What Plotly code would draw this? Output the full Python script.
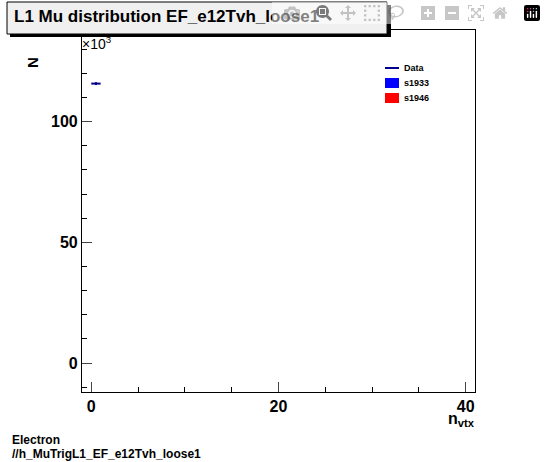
import plotly.graph_objects as go

nvtx = [0.5]
counts = [115800]
err = [600]
bin_half = [0.5]
legend_names = ["Data", "s1933", "s1946"]
legend_colors = ["#00008b", "#0000ff", "#ff0000"]

fig = go.Figure()
fig.add_trace(go.Scatter(
    x=nvtx, y=counts, mode="markers",
    marker=dict(size=1, color="#00008b"),
    error_x=dict(type="data", array=bin_half, color="#00008b", thickness=2, width=0),
    error_y=dict(type="data", array=err, color="#00008b", thickness=2, width=0),
    showlegend=False))

fig.update_layout(
    width=546, height=462, margin=dict(l=0, r=0, t=0, b=0),
    paper_bgcolor="white", plot_bgcolor="white", showlegend=False,
    font=dict(family="Liberation Sans", color="black"),
    xaxis=dict(domain=[0.150, 0.870], range=[-1, 41], showline=True, mirror=True,
               linecolor="black", linewidth=1, ticks="inside", ticklen=10,
               tickvals=[0, 20, 40], ticktext=["<b>0</b>", "<b>20</b>", "<b>40</b>"],
               tickfont=dict(size=16, family="Liberation Sans"),
               showgrid=False, zeroline=False,
               minor=dict(ticks="inside", ticklen=5, dtick=5, tick0=0, tickcolor="black")),
    yaxis=dict(domain=[0.1515, 0.935], range=[-12000, 138000], showline=True, mirror=True,
               linecolor="black", linewidth=1, ticks="inside", ticklen=10,
               tickvals=[0, 50000, 100000], ticktext=["<b>0</b>", "<b>50</b>", "<b>100</b>"],
               tickfont=dict(size=16, family="Liberation Sans"),
               showgrid=False, zeroline=False,
               minor=dict(ticks="inside", ticklen=5, dtick=10000, tick0=0, tickcolor="black")),
)

ann = [
    dict(x=12, y=5, text="<b>L1 Mu distribution EF_e12Tvh_loose1</b>", font_size=17),
    dict(x=80, y=32, text="×10<sup>3</sup>", font_size=14),
    dict(x=22, y=55, text="<b>N</b>", font_size=15, textangle=-90),
    dict(x=446, y=408, text="<b>n<sub>vtx</sub></b>", font_size=16),
    dict(x=10, y=431, text="<b>Electron</b>", font_size=12),
    dict(x=10, y=445, text="<b>//h_MuTrigL1_EF_e12Tvh_loose1</b>", font_size=12),
]
for a in ann:
    fig.add_annotation(xref="paper", yref="paper", x=a["x"] / 546, y=1 - a["y"] / 462,
                       xanchor="left", yanchor="top", showarrow=False,
                       text=a["text"], textangle=a.get("textangle", 0),
                       font=dict(size=a["font_size"], family="Liberation Sans", color="black"))

# title box with shadow
fig.add_shape(type="rect", xref="paper", yref="paper", x0=10/546, x1=391/546,
              y0=1-37/462, y1=1-5/462, fillcolor="black", line_width=0, layer="below")
fig.add_shape(type="rect", xref="paper", yref="paper", x0=7/546, x1=387/546,
              y0=1-34/462, y1=1-2/462, fillcolor="#f0f0f0", line=dict(color="black", width=1))

# legend
for i, (n, c) in enumerate(zip(legend_names, legend_colors)):
    yc = 68 + i * 15
    if i == 0:
        fig.add_shape(type="line", xref="paper", yref="paper", x0=385/546, x1=399/546,
                      y0=1-yc/462, y1=1-yc/462, line=dict(color=c, width=2))
    else:
        fig.add_shape(type="rect", xref="paper", yref="paper", x0=385/546, x1=399/546,
                      y0=1-(yc+5)/462, y1=1-(yc-5)/462, fillcolor=c, line_width=0)
    fig.add_annotation(xref="paper", yref="paper", x=402/546, y=1-yc/462, xanchor="left",
                       yanchor="middle", showarrow=False, text="<b>%s</b>" % n,
                       font=dict(size=9, family="Liberation Sans", color="black"))

fig.write_html("out.html", post_script="document.body.style.margin='0';")
